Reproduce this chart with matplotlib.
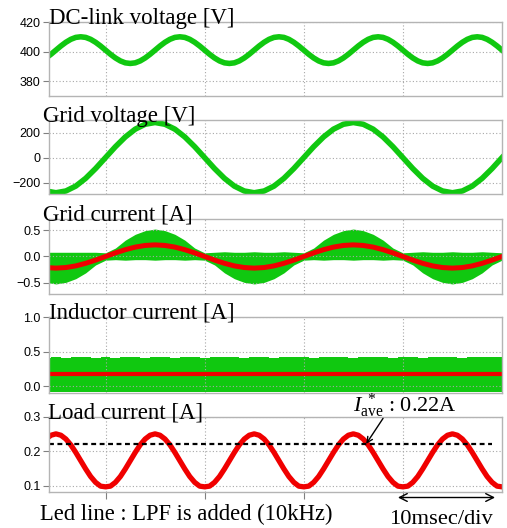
import numpy as np
import matplotlib
matplotlib.use("Agg")
from matplotlib import pyplot as plt

# time axes in ms (0 = rising zero crossing of the grid voltage)
t_ms = np.arange(-6, 41, 1.0)
t_fine = np.arange(-6, 40.5, 0.5)

# DC-link voltage [V], 0.5 ms samples
dc_link = [395.7, 398.2, 401.0, 403.8, 406.3, 408.3, 409.6, 410.0, 409.6, 408.3, 406.3, 403.8,
           401.0, 398.2, 395.7, 393.7, 392.4, 392.0, 392.4, 393.7, 395.7, 398.2,
           401.0, 403.8, 406.3, 408.3, 409.6, 410.0, 409.6, 408.3, 406.3, 403.8,
           401.0, 398.2, 395.7, 393.7, 392.4, 392.0, 392.4, 393.7, 395.7, 398.2,
           401.0, 403.8, 406.3, 408.3, 409.6, 410.0, 409.6, 408.3, 406.3, 403.8,
           401.0, 398.2, 395.7, 393.7, 392.4, 392.0, 392.4, 393.7, 395.7, 398.2,
           401.0, 403.8, 406.3, 408.3, 409.6, 410.0, 409.6, 408.3, 406.3, 403.8,
           401.0, 398.2, 395.7, 393.7, 392.4, 392.0, 392.4, 393.7, 395.7, 398.2,
           401.0, 403.8, 406.3, 408.3, 409.6, 410.0, 409.6, 408.3, 406.3, 403.8,
           401.0]

# grid voltage [V], 1 ms samples
grid_v = [-266, -280, -266, -227, -165, -87,
          0, 87, 165, 227, 266, 280, 266, 227, 165, 87,
          0, -87, -165, -227, -266, -280, -266, -227, -165, -87,
          0, 87, 165, 227, 266, 280, 266, 227, 165, 87,
          0, -87, -165, -227, -266, -280, -266, -227, -165, -87,
          0]

# grid current [A]: switching band (upper / lower) and filtered (red)
grid_i_hi = [0.08, 0.08, 0.08, 0.08, 0.08, 0.08,
             0.07, 0.16, 0.31, 0.42, 0.49, 0.52, 0.49, 0.42, 0.31, 0.16,
             0.07, 0.08, 0.09, 0.08, 0.08, 0.09, 0.08, 0.08, 0.09, 0.08,
             0.07, 0.16, 0.31, 0.42, 0.49, 0.52, 0.49, 0.42, 0.31, 0.16,
             0.07, 0.08, 0.09, 0.08, 0.08, 0.09, 0.08, 0.08, 0.09, 0.08,
             0.07]
grid_i_lo = [-0.49, -0.52, -0.49, -0.42, -0.31, -0.16,
             -0.07, -0.06, -0.07, -0.06, -0.06, -0.07, -0.06, -0.06, -0.07, -0.06,
             -0.07, -0.16, -0.31, -0.42, -0.49, -0.52, -0.49, -0.42, -0.31, -0.16,
             -0.07, -0.06, -0.07, -0.06, -0.06, -0.07, -0.06, -0.06, -0.07, -0.06,
             -0.07, -0.16, -0.31, -0.42, -0.49, -0.52, -0.49, -0.42, -0.31, -0.16,
             -0.07]
grid_i_lpf = [-0.209, -0.22, -0.209, -0.178, -0.129, -0.068,
              0.0, 0.068, 0.129, 0.178, 0.209, 0.22, 0.209, 0.178, 0.129, 0.068,
              0.0, -0.068, -0.129, -0.178, -0.209, -0.22, -0.209, -0.178, -0.129, -0.068,
              0.0, 0.068, 0.129, 0.178, 0.209, 0.22, 0.209, 0.178, 0.129, 0.068,
              0.0, -0.068, -0.129, -0.178, -0.209, -0.22, -0.209, -0.178, -0.129, -0.068,
              0.0]

# inductor current [A]
ind_i_hi = [0.41, 0.42, 0.41, 0.42, 0.42, 0.41, 0.42, 0.41, 0.42, 0.42, 0.41, 0.42,
            0.42, 0.41, 0.42, 0.42, 0.41, 0.42, 0.42, 0.42, 0.41, 0.42, 0.42, 0.41,
            0.42, 0.42, 0.42, 0.41, 0.42, 0.42, 0.42, 0.41, 0.42, 0.42, 0.42, 0.41,
            0.42, 0.42, 0.41, 0.42, 0.42, 0.42, 0.41, 0.42, 0.42, 0.42, 0.42]
ind_i_lo = [-0.08] * 47
ind_i_lpf = [0.17] * 47

# load current [A], 0.5 ms samples
load_i = [0.236, 0.247, 0.251, 0.247, 0.236, 0.219, 0.197, 0.173, 0.149, 0.127, 0.110, 0.099,
          0.097, 0.099, 0.110, 0.127, 0.149, 0.173, 0.197, 0.219, 0.236, 0.247,
          0.251, 0.247, 0.236, 0.219, 0.197, 0.173, 0.149, 0.127, 0.110, 0.099,
          0.097, 0.099, 0.110, 0.127, 0.149, 0.173, 0.197, 0.219, 0.236, 0.247,
          0.251, 0.247, 0.236, 0.219, 0.197, 0.173, 0.149, 0.127, 0.110, 0.099,
          0.097, 0.099, 0.110, 0.127, 0.149, 0.173, 0.197, 0.219, 0.236, 0.247,
          0.251, 0.247, 0.236, 0.219, 0.197, 0.173, 0.149, 0.127, 0.110, 0.099,
          0.097, 0.099, 0.110, 0.127, 0.149, 0.173, 0.197, 0.219, 0.236, 0.247,
          0.251, 0.247, 0.236, 0.219, 0.197, 0.173, 0.149, 0.127, 0.110, 0.099,
          0.097]
i_ave_ref = 0.222

titles = ["DC-link voltage [V]", "Grid voltage [V]", "Grid current [A]",
          "Inductor current [A]", "Load current [A]"]
ylims = [(370, 420), (-290, 300), (-0.71, 0.71), (-0.1, 1.0), (0.082, 0.3)]
yticks = [[380, 400, 420], [-200, 0, 200], [-0.5, 0.0, 0.5], [0.0, 0.5, 1.0], [0.1, 0.2, 0.3]]
ytick_labels = [["380", "400", "420"], ["\u2212200", "0", "200"], ["\u22120.5", "0.0", "0.5"],
                ["0.0", "0.5", "1.0"], ["0.1", "0.2", "0.3"]]
div_ticks = [0, 10, 20, 30]

GREEN = "#10c810"
RED = "#f00000"
SERIF = "Liberation Serif"

plt.rcParams["font.family"] = "Liberation Sans"
plt.rcParams["mathtext.fontset"] = "custom"
plt.rcParams["mathtext.rm"] = SERIF
plt.rcParams["mathtext.it"] = SERIF + ":italic"

W, H = 507, 528
fig = plt.figure(figsize=(W / 100, H / 100), dpi=100)

# panel top / bottom edges in pixels
panel_px = [(22, 96), (120, 194), (219, 294), (317, 393), (417, 492)]
title_x = [49, 43, 43, 49, 48]
x0, x1 = 49, 502

axes = []
for i, (top, bot) in enumerate(panel_px):
    ax = fig.add_axes([x0 / W, 1 - bot / H, (x1 - x0) / W, (bot - top) / H])
    ax.set_xlim(-5.7, 40.0)
    ax.set_ylim(*ylims[i])
    ax.set_yticks(yticks[i])
    ax.set_yticklabels(ytick_labels[i])
    ax.set_xticks(div_ticks)
    ax.grid(True, color="#a8a8a8", linestyle=(0, (1, 2)), linewidth=0.8)
    for s in ax.spines.values():
        s.set_color("#b4b4b4")
        s.set_linewidth(1.0)
    ax.tick_params(axis="y", length=4, width=0.8, color="#808080", labelsize=9, pad=2)
    if i < 4:
        ax.tick_params(axis="x", length=0, labelbottom=False)
    else:
        ax.tick_params(axis="x", length=5, width=0.8, color="#808080", labelbottom=False)
    fig.text(title_x[i] / W, 1 - (top + 2) / H, titles[i], family=SERIF,
             fontsize=16.5, va="baseline", ha="left", zorder=10)
    axes.append(ax)

ax1, ax2, ax3, ax4, ax5 = axes

ax1.plot(t_fine, dc_link, color=GREEN, lw=4.0, solid_joinstyle="round")
ax2.plot(t_ms, grid_v, color=GREEN, lw=4.0, solid_joinstyle="round")

ax3.fill_between(t_ms, grid_i_lo, grid_i_hi, color=GREEN, lw=0)
ax3.plot(t_ms, grid_i_lpf, color=RED, lw=3.6, solid_joinstyle="round")

ax4.fill_between(t_ms, ind_i_lo, ind_i_hi, color=GREEN, lw=0, step="mid")
ax4.plot(t_ms, ind_i_lpf, color=RED, lw=3.0)

ax5.plot(t_fine, load_i, color=RED, lw=3.8, solid_joinstyle="round")
ax5.plot([-5.7, 39.0], [i_ave_ref, i_ave_ref], color="black", lw=1.6,
         linestyle=(0, (2.2, 1.6)))
ax5.annotate("", xy=(26.3, i_ave_ref), xytext=(28.0, 0.296),
             arrowprops=dict(arrowstyle="->", lw=1.0, color="black", shrinkA=0, shrinkB=0),
             annotation_clip=False)

fig.text(405 / W, 1 - 412 / H, r"$I_{\mathrm{ave}}^{\ *}$ : 0.22A", family=SERIF,
         fontsize=16, ha="center", va="baseline")
fig.text(40 / W, 1 - 520 / H, "Led line : LPF is added (10kHz)", family=SERIF,
         fontsize=16.3, ha="left", va="baseline")
fig.text(441 / W, 1 - 524 / H, "10msec/div", family=SERIF,
         fontsize=16.2, ha="center", va="baseline")
# 10 ms scale arrow
ax5.annotate("", xy=(29.5, 0.082 - 0.016), xytext=(39.3, 0.082 - 0.016),
             xycoords="data", arrowprops=dict(arrowstyle="<->", lw=1.0, color="black",
                                               shrinkA=0, shrinkB=0, mutation_scale=14),
             annotation_clip=False)

fig.savefig("out.png", dpi=100)
